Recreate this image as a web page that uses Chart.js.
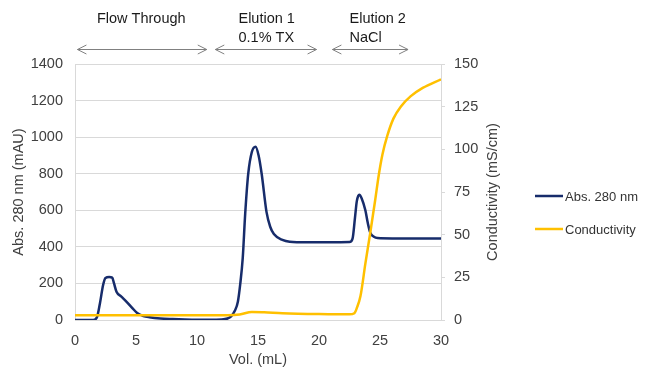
<!DOCTYPE html>
<html>
<head>
<meta charset="utf-8">
<script src="https://cdn.jsdelivr.net/npm/chart.js@4/dist/chart.umd.min.js"></script>
<style>
  html, body { margin:0; padding:0; background:#fff; }
  #wrap { width:650px; height:380px; }
</style>
</head>
<body>
<div id="wrap"><canvas id="chart" width="650" height="380"></canvas></div>
<script>
/* ---------- Data ---------- */
const absVol = [0, 1.5, 1.8, 2.05, 2.3, 2.5, 2.8, 3.05, 3.2, 3.4, 3.8, 4.25, 4.7, 5.1, 5.6, 6.1, 7, 8, 9, 10, 11, 12,
  12.5, 12.8, 13.1, 13.35, 13.55, 13.75, 13.95, 14.2, 14.5, 14.8, 15.05, 15.3, 15.7, 16.0, 16.3, 17, 17.6, 19, 21, 22.5,
  22.75, 22.95, 23.1, 23.3, 23.5, 23.8, 24.0, 24.2, 24.5, 24.8, 26, 30];
const absVal = [0, 0, 15, 93, 190, 230, 235, 232, 200, 155, 128, 98, 65, 38, 22, 15, 8, 5, 3, 2, 2, 3,
  8, 20, 50, 100, 200, 340, 580, 800, 920, 948, 900, 800, 590, 510, 470, 438, 428, 425, 425, 426,
  445, 560, 650, 685, 665, 600, 530, 478, 455, 448, 446, 446];

const condVol = [0, 12.5, 13.5, 14.5, 15.5, 17, 20, 22.5, 22.9, 23.1, 23.4, 23.8, 24.2, 24.6, 24.9, 25.2, 25.6, 26.1, 26.7, 27.5, 28.5, 30];
const condVal = [2.8, 2.8, 3.2, 4.7, 4.5, 4.0, 3.5, 3.3, 4, 7, 14, 33, 51, 70, 85, 97, 108, 118, 125, 131, 136, 141];

const seriesNames = ["Abs. 280 nm", "Conductivity"];
const seriesColors = ["#172c6b", "#ffc000"];

// top phase markers (in mL)
const phaseLabels = [["Flow Through"], ["Elution 1", "0.1% TX"], ["Elution 2", "NaCl"]];
const phaseTextAt = [1.8, 13.4, 22.5];
const phaseStart = [0.2, 11.5, 21.1];
const phaseEnd = [10.8, 19.8, 27.3];

const FONT = "'Liberation Sans', Arial, sans-serif";
Chart.defaults.font.family = FONT;
Chart.defaults.font.size = 14.5;
Chart.defaults.color = "#404040";

const toPts = (xs, ys) => xs.map((x, i) => ({ x, y: ys[i] }));
const plain = v => String(v);

/* ---------- Extras: phase arrows, right title, legend ---------- */
const extras = {
  id: "extras",
  afterDraw(c) {
    const g = c.ctx, xs = c.scales.x;
    g.save();
    // phases
    g.strokeStyle = "#808080";
    g.lineWidth = 1;
    g.fillStyle = "#1a1a1a";
    g.font = "14.5px " + FONT;
    g.textAlign = "left";
    g.textBaseline = "middle";
    phaseLabels.forEach((lines, i) => {
      const tx = xs.getPixelForValue(phaseTextAt[i]);
      lines.forEach((t, j) => g.fillText(t, tx, 19 + j * 19));
      const a = xs.getPixelForValue(phaseStart[i]), b = xs.getPixelForValue(phaseEnd[i]);
      const y = 49.5;
      g.beginPath();
      g.moveTo(a, y); g.lineTo(b, y);
      g.moveTo(a + 9, y - 4.5); g.lineTo(a, y); g.lineTo(a + 9, y + 4.5);
      g.moveTo(b - 9, y - 4.5); g.lineTo(b, y); g.lineTo(b - 9, y + 4.5);
      g.stroke();
    });
    // right axis title (reads bottom to top, like the left one)
    const yr = c.scales.y1;
    g.save();
    g.translate(493, (yr.top + yr.bottom) / 2);
    g.rotate(-Math.PI / 2);
    g.textAlign = "center";
    g.fillStyle = "#404040";
    g.fillText("Conductivity (mS/cm)", 0, 0);
    g.restore();
    // legend
    g.font = "13px " + FONT;
    g.fillStyle = "#333";
    seriesNames.forEach((n, i) => {
      const y = 196 + i * 33;
      g.strokeStyle = seriesColors[i];
      g.lineWidth = 2.5;
      g.beginPath(); g.moveTo(535, y); g.lineTo(563, y); g.stroke();
      g.fillText(n, 565, y + 1);
    });
    g.restore();
  }
};

new Chart(document.getElementById("chart"), {
  type: "line",
  data: {
    datasets: [
      { label: seriesNames[0], data: toPts(absVol, absVal), yAxisID: "y",
        borderColor: seriesColors[0], borderWidth: 2.5, pointRadius: 0,
        cubicInterpolationMode: "monotone", order: 1 },
      { label: seriesNames[1], data: toPts(condVol, condVal), yAxisID: "y1",
        borderColor: seriesColors[1], borderWidth: 2.5, pointRadius: 0,
        cubicInterpolationMode: "monotone", order: 0 }
    ]
  },
  options: {
    responsive: false,
    animation: false,
    layout: { padding: { top: 64, left: 0, right: 149, bottom: 0 } },
    plugins: { legend: { display: false }, tooltip: { enabled: false } },
    scales: {
      x: {
        type: "linear", min: 0, max: 30,
        ticks: { stepSize: 5, padding: 12, callback: plain },
        grid: { display: false, drawTicks: false },
        border: { display: true, color: "#d9d9d9" },
        title: { display: true, text: "Vol. (mL)", padding: { top: 0, bottom: 11 } },
        afterFit(s) { s.height = 60; }
      },
      y: {
        position: "left", min: 0, max: 1400,
        ticks: { stepSize: 200, padding: 12, callback: plain },
        grid: { color: "#d9d9d9", drawTicks: false },
        border: { display: true, color: "#d9d9d9" },
        title: { display: true, text: "Abs. 280 nm (mAU)", padding: { top: 10, bottom: 0 } },
        afterFit(s) { s.width = 75; }
      },
      y1: {
        position: "right", min: 0, max: 150,
        ticks: { stepSize: 25, padding: 9, callback: plain },
        grid: { drawOnChartArea: false, color: "#d9d9d9", tickLength: 4 },
        border: { display: true, color: "#d9d9d9" },
        afterFit(s) { s.width = 60; }
      }
    }
  },
  plugins: [extras]
});
</script>
</body>
</html>
